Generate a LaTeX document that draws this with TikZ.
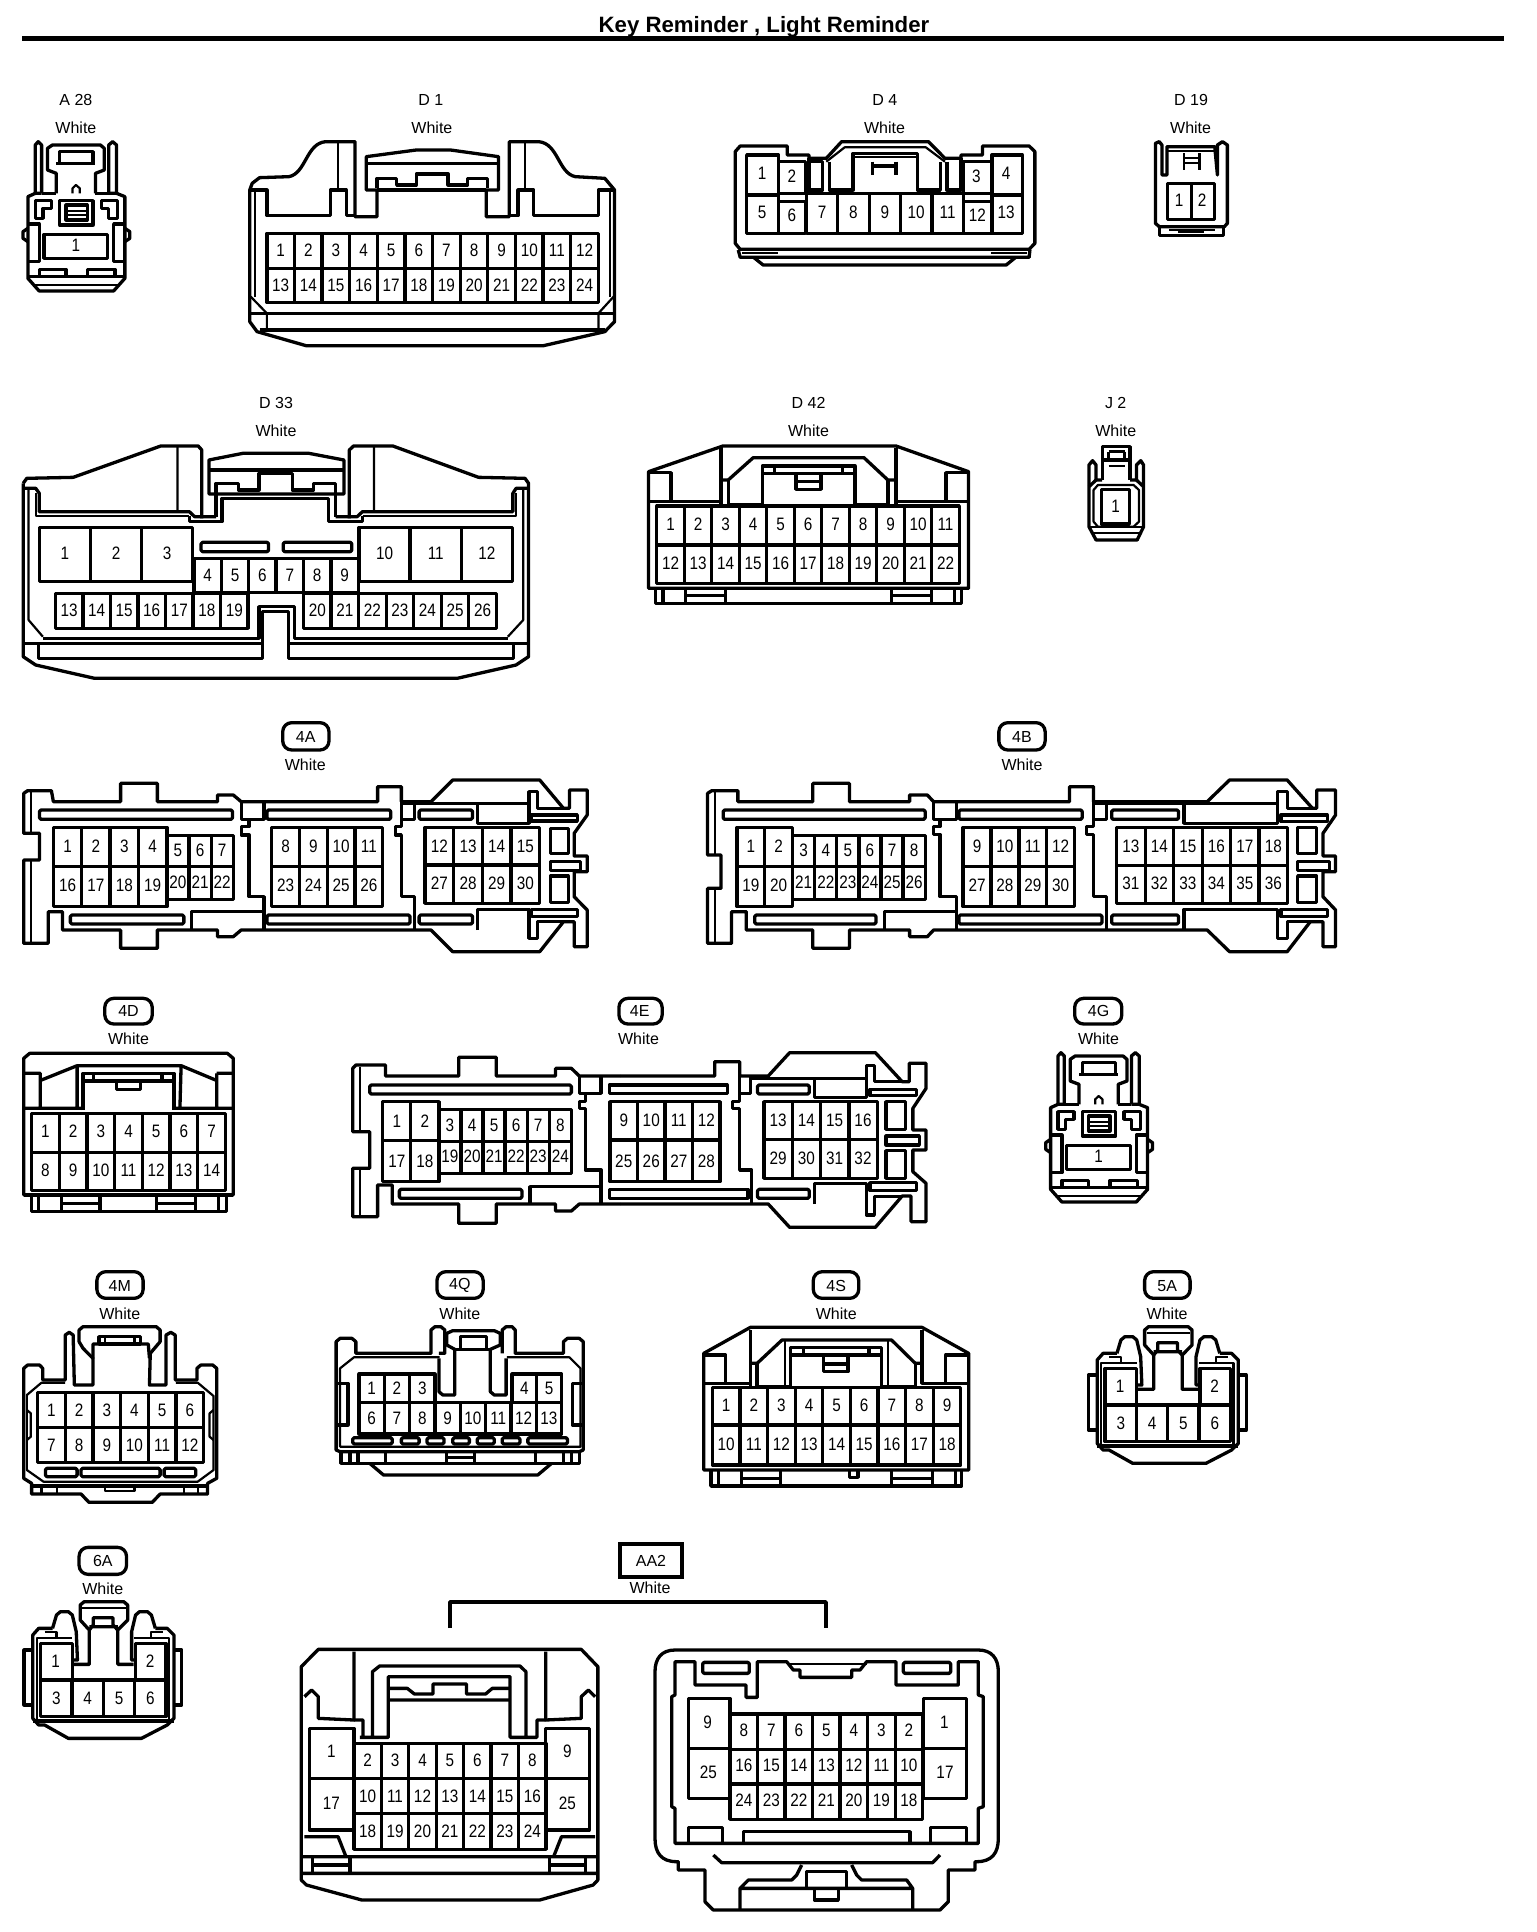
\documentclass[tikz,border=0pt]{standalone}
\usepackage{fontspec}
\setmainfont{Liberation Sans}
\newfontfamily\numf[FakeStretch=0.85]{Liberation Sans}
\newcounter{nn}
\tikzset{
 ol/.style={draw=black,line width=3.3pt,line join=round},
 tl/.style={draw=black,line width=2.2pt,line join=round},
 num/.style={inner sep=0pt,font=\fontsize{18}{18}\selectfont\numf},
 lab/.style={inner sep=0pt,font=\fontsize{16}{16}\selectfont},
 z1/.style={x=.4897pt,y=-.33333pt},
 z2/.style={shift={(700,60)},x=.38270pt,y=-.33333pt},
 z3/.style={shift={(0,390)},x=.35714pt,y=-.33333pt},
 z4/.style={shift={(630,390)},x=.35714pt,y=-.33333pt},
 z5/.style={shift={(0,720)},x=.39541pt,y=-.33333pt},
 z6/.style={shift={(700,720)},x=.42092pt,y=-.33333pt},
 z7/.style={shift={(0,1000)},x=.39541pt,y=-.33333pt},
 z8/.style={shift={(620,1000)},x=.35714pt,y=-.33333pt},
 z9/.style={shift={(0,1270)},x=.39541pt,y=-.33333pt},
 z10/.style={shift={(680,1270)},x=.39541pt,y=-.33333pt},
 z11/.style={shift={(0,1540)},x=.39541pt,y=-.33333pt},
 z12/.style={shift={(620,1540)},x=.33333pt,y=-.33333pt},
}
\newcommand\cells[6]{\foreach \n [count=\i from 0] in {#6}{\pgfmathsetmacro\xa{#4+\i*#5}\pgfmathsetmacro\xb{\xa+#5}\pgfmathsetmacro\xc{\xa+#5/2}\draw[ol] (\xa,#1) rectangle (\xb,#2);\stepcounter{nn}\node[num] (t\thenn) at (\xc,#3) {\n};}}
\newcommand\onecell[7]{\draw[ol] (#1,#2) rectangle (#3,#4);\stepcounter{nn}\node[num] (t\thenn) at (#5,#6) {#7};}
\newcommand\slotb[4]{\draw[ol,rounded corners=1.5pt] (#1,#2) rectangle (#3,#4);}
\newcommand\mk[3]{\stepcounter{nn}\node[lab] (t\thenn) at (#1,#2) {#3};}
\newcommand\pill[7]{\draw[ol,rounded corners=9pt] (#1,#2) rectangle (#3,#4);\mk{#5}{#6}{#7}}
% two connector bodies that appear twice
\newcommand\latchbody{%
 \draw[ol] (72,580)--(72,435)--(78,425)--(85,435)--(85,580);
 \draw[ol] (222,580)--(222,435)--(230,425)--(238,435)--(238,580);
 \draw[ol] (85,580)--(72,580)--(57,590)--(57,835)--(80,873)--(232,873)--(255,835)--(255,590)--(238,580)--(222,580);
 \draw[ol] (85,580)--(115,580) (195,580)--(222,580);
 \draw[ol] (115,580)--(115,520)--(97,510)--(97,445)--(107,435)--(205,435)--(213,445)--(213,510)--(195,520)--(195,580);
 \draw[ol] (122,490)--(122,455)--(190,455)--(190,490) (115,490)--(195,490);
 \draw[tl] (148,580)--(148,565)--(155,555)--(163,565)--(163,580);
 \draw[ol] (122,602) rectangle (190,675);
 \draw[ol] (135,615) rectangle (178,660);
 \draw[tl] (135,632)--(178,632) (135,646)--(178,646);
 \draw[ol] (72,602)--(105,602)--(105,625)--(88,625)--(88,655)--(72,655)--cycle;
 \draw[ol] (207,602)--(240,602)--(240,655)--(222,655)--(222,625)--(207,625)--cycle;
 \draw[ol] (57,672)--(80,672)--(80,785)--(57,785) (255,672)--(232,672)--(232,785)--(255,785);
 \draw[ol] (57,685)--(47,695)--(47,715)--(57,725) (255,685)--(265,695)--(265,715)--(255,725);
 \draw[ol] (90,703) rectangle (220,775);
 \draw[ol] (80,830)--(80,808)--(135,808)--(135,830) (178,830)--(178,808)--(235,808)--(235,830);
 \draw[ol] (57,830)--(255,830);
 \draw[tl] (70,855)--(240,855);
 \mk{155}{735}{\numf\fontsize{18}{18}\selectfont 1}
}
\newcommand\sixbody{%
 \draw[ol] (1105,250)--(1070,250)--(1055,270)--(1055,520)--(1070,540)--(1085,540)--(1145,580)--(1330,580)--(1395,540)--(1412,520)--(1412,270)--(1395,250)--(1365,250);
 \draw[ol] (1158,358)--(1198,358)--(1198,255)--(1175,225)--(1175,180)--(1185,170)--(1285,170)--(1295,180)--(1295,225)--(1270,255)--(1270,358)--(1310,358);
 \draw[tl] (1180,190)--(1290,190);
 \draw[ol] (1198,255)--(1208,240)--(1208,218)--(1258,218)--(1258,240)--(1270,255) (1198,245)--(1270,245);
 \draw[ol] (1105,250)--(1115,210)--(1125,200)--(1145,200)--(1155,210)--(1165,260)--(1168,345)--(1158,345);
 \draw[ol] (1365,250)--(1355,210)--(1345,200)--(1325,200)--(1315,210)--(1305,260)--(1305,345)--(1312,345);
 \draw[tl] (1065,525)--(1065,280)--(1155,280) (1400,525)--(1400,280)--(1312,280) (1085,262)--(1115,262)--(1115,275) (1355,275)--(1355,262)--(1385,262);
 \draw[ol] (1155,405)--(1155,295)--(1075,295)--(1075,405)--(1392,405)--(1392,295)--(1315,295)--(1315,405);
 \draw[ol] (1055,528)--(1412,528);
 \cells{405}{515}{460}{1075}{79.25}{3,4,5,6}
 \mk{1113}{350}{\numf\fontsize{18}{18}\selectfont 1}
 \mk{1352}{350}{\numf\fontsize{18}{18}\selectfont 2}
 \draw[ol] (1055,315)--(1033,315)--(1033,480)--(1055,480) (1412,315)--(1432,315)--(1432,480)--(1412,480);
}
\begin{document}
\begin{tikzpicture}[x=1pt,y=-1pt]
\useasboundingbox (0,0) rectangle (1536,1932);
\fill[white] (0,0) rectangle (1536,1932);
\node[inner sep=0pt,font=\bfseries\fontsize{22.2}{22.2}\selectfont] (title) at (764,27) {Key Reminder , Light Reminder};
\draw[line width=5pt] (22,39)--(1504,39);

% ---------- A28, D1
\begin{scope}[z1]
\mk{155}{300}{A 28}\mk{155}{382}{White}
\latchbody
\mk{880}{300}{D 1}\mk{882}{382}{White}
\draw[ol] (510,570)--(510,965)--(525,995)--(625,1037)--(1110,1037)--(1235,995)--(1255,965)--(1255,570)--(1235,535)--(1175,530) .. controls (1140,520) and (1140,430) .. (1100,425)--(1040,425)--(1040,650)--(993,650)--(993,570)--(1018,570)--(1018,470)--(920,450)--(850,450)--(748,470)--(748,570)--(770,570)--(770,650)--(725,650)--(725,425)--(665,425) .. controls (625,430) and (625,520) .. (590,530)--(530,533)--(515,550)--cycle;
\draw[ol] (510,570)--(545,570)--(545,647)--(675,647)--(675,570)--(707,570)--(707,647)--(725,647);
\draw[ol] (1040,647)--(1058,647)--(1058,570)--(1090,570)--(1090,647)--(1222,647)--(1222,570)--(1255,570);
\draw[tl] (690,430)--(690,570) (1072,430)--(1072,570) (520,575)--(520,890) (1245,575)--(1245,890);
\draw[ol] (748,490)--(1018,490) (770,570)--(993,570);
\draw[ol] (770,565)--(770,535)--(810,535)--(810,555)--(850,555)--(850,522)--(915,522)--(915,555)--(955,555)--(955,535)--(995,535)--(995,565);
\cells{700}{805}{750}{545}{56.4}{1,...,12}
\cells{805}{908}{855}{545}{56.4}{13,...,24}
\draw[ol] (510,940)--(1255,940) (530,990)--(1235,990);
\draw[tl] (512,890)--(545,940)--(545,990) (1253,890)--(1222,940)--(1222,990);
\end{scope}

% ---------- D4, D19
\begin{scope}[z2]
\mk{483}{120}{D 4}\mk{482}{202}{White}
\mk{1283}{120}{D 19}\mk{1282}{202}{White}
\draw[ol] (92,275)--(105,258)--(228,258)--(228,285)--(285,285)--(285,295)--(330,295)--(370,245)--(597,245)--(640,295)--(682,295)--(682,285)--(738,285)--(738,258)--(860,258)--(875,275)--(875,550)--(860,568)--(105,568)--(92,550)--cycle;
\draw[tl] (330,305)--(378,262)--(590,262)--(640,305);
\draw[ol] (285,295)--(285,395) (285,390)--(320,390)--(320,305)--(285,305);
\draw[ol] (338,305)--(338,390)--(400,390)--(400,280)--(568,280)--(568,390)--(628,390)--(628,305);
\draw[ol] (645,305)--(645,390)--(682,390)--(682,295);
\draw[tl] (400,292)--(568,292);
\draw[ol] (450,305)--(450,345) (512,305)--(512,345) (450,318)--(512,318);
\onecell{122}{285}{205}{405}{162}{340}{1}
\onecell{122}{405}{205}{520}{162}{458}{5}
\onecell{205}{305}{275}{400}{240}{348}{2}
\onecell{205}{425}{275}{520}{240}{465}{6}
\onecell{688}{305}{763}{400}{722}{350}{3}
\onecell{688}{425}{763}{520}{725}{467}{12}
\onecell{763}{285}{842}{405}{800}{340}{4}
\onecell{763}{405}{842}{520}{800}{458}{13}
\draw[ol] (205,400)--(688,400);
\cells{400}{520}{458}{278}{82}{7,...,11}
\draw[ol] (100,570)--(105,592)--(860,592)--(862,570);
\draw[ol] (140,592)--(165,615)--(800,615)--(825,592);
\draw[tl] (110,578)--(205,578) (760,578)--(855,578);
% D19
\draw[ol] (1190,345)--(1190,250)--(1200,245)--(1207,255)--(1207,345)--(1220,345)--(1220,260)--(1345,260)--(1352,345)--(1352,255)--(1365,245)--(1378,255)--(1378,490)--(1370,500)--(1200,500)--(1190,490)--cycle;
\draw[tl] (1217,272)--(1345,272);
\draw[tl] (1265,280)--(1265,330) (1305,280)--(1305,330) (1265,295)--(1305,295) (1265,310)--(1305,310);
\onecell{1222}{370}{1285}{478}{1252}{420}{1}
\onecell{1285}{370}{1345}{478}{1312}{420}{2}
\draw[ol] (1200,500)--(1200,527)--(1368,527)--(1368,500);
\draw[tl] (1225,510)--(1345,510);
\draw[ol] (1250,515)--(1318,515);
\end{scope}

% ---------- D33
\begin{scope}[z3]
\mk{773}{40}{D 33}\mk{773}{123}{White}
\draw[ol] (65,280)--(65,800)--(100,825)--(265,865)--(1280,865)--(1445,825)--(1480,800)--(1480,280)--(1470,265)--(1340,262)--(1100,168)--(990,168)--(978,180)--(978,385);
\draw[ol] (65,280)--(75,265)--(205,262)--(450,168)--(555,168)--(565,180)--(565,385);
\draw[ol] (70,295)--(100,295)--(110,310)--(110,365)--(530,365)--(545,380)--(605,380);
\draw[tl] (100,310)--(100,378)--(530,378);
\draw[ol] (530,378)--(530,395)--(622,395)--(622,325)--(920,325)--(920,395)--(1015,395)--(1015,378);
\draw[tl] (1015,378)--(1445,378)--(1445,310);
\draw[ol] (940,380)--(1000,380)--(1015,365)--(1436,365)--(1436,310)--(1445,295)--(1475,295);
\draw[tl] (497,170)--(497,365) (1047,170)--(1047,365) (80,295)--(80,690)--(120,740) (1465,295)--(1465,690)--(1422,740);
\draw[ol] (585,210)--(680,190)--(865,190)--(963,210)--(963,312)--(585,312)--cycle;
\draw[ol] (585,240)--(963,240);
\draw[ol] (605,312)--(605,280)--(668,280)--(668,300)--(725,300)--(725,250)--(818,250)--(818,300)--(878,300)--(878,280)--(940,280)--(940,312);
\draw[ol] (605,312)--(605,380) (940,312)--(940,380);
\cells{412}{575}{490}{110}{143.3}{1,2,3}
\cells{412}{575}{490}{1005}{143.3}{10,11,12}
\slotb{563}{457}{752}{485}\slotb{793}{457}{985}{485}
\draw[ol] (543,505)--(1003,505);
\cells{505}{608}{555}{543}{76.7}{4,...,9}
\cells{610}{715}{660}{155}{77.1}{13,...,19}
\cells{610}{715}{660}{850}{77.1}{20,...,26}
\draw[ol] (695,608)--(850,608);
\draw[ol] (120,745)--(725,745)--(725,650)--(825,650)--(825,745)--(1422,745);
\draw[ol] (65,760)--(735,760) (808,760)--(1480,760);
\draw[ol] (108,760)--(108,805)--(735,805)--(735,665)--(808,665)--(808,805)--(1437,805)--(1437,760);
\end{scope}

% ---------- D42, J2
\begin{scope}[z4]
\mk{500}{40}{D 42}\mk{500}{123}{White}
\mk{1360}{40}{J 2}\mk{1360}{123}{White}
\draw[ol] (52,595)--(52,245)--(260,168)--(745,168)--(948,245)--(948,595)--cycle;
\draw[ol] (52,248)--(115,248)--(115,335) (55,335)--(255,335) (255,175)--(255,350) (745,175)--(745,350) (745,335)--(948,335) (885,335)--(885,248)--(948,248);
\draw[ol] (255,270)--(275,270)--(345,203)--(655,203)--(722,270)--(745,270);
\draw[ol] (275,270)--(275,345)--(370,345)--(370,228)--(630,228)--(630,345)--(722,345)--(722,270);
\draw[ol] (370,250)--(630,250) (405,230)--(405,250) (595,230)--(595,250);
\draw[ol] (465,250)--(465,298)--(535,298)--(535,250) (465,275)--(535,275);
\cells{348}{465}{403}{75}{77}{1,...,11}
\cells{465}{580}{520}{75}{77}{12,...,22}
\draw[ol] (72,595)--(72,640)--(928,640)--(928,595);
\draw[ol] (92,595)--(92,640) (155,595)--(155,640) (268,595)--(268,640) (733,595)--(733,640) (845,595)--(845,640) (908,595)--(908,640);
\draw[ol] (155,617)--(268,617) (733,617)--(845,617);
% J2
\draw[ol] (1322,270)--(1322,170)--(1400,170)--(1400,270);
\draw[ol] (1322,210)--(1400,210) (1340,185)--(1385,185) (1340,185)--(1340,210) (1385,185)--(1385,210);
\draw[tl] (1340,228)--(1385,228);
\draw[ol] (1322,270)--(1305,270)--(1305,225)--(1295,212)--(1285,225)--(1285,410)--(1305,450)--(1420,450)--(1438,410)--(1438,225)--(1430,212)--(1418,225)--(1418,270)--(1400,270);
\draw[ol] (1305,270)--(1285,290) (1418,270)--(1438,290);
\draw[tl] (1298,300)--(1298,395)--(1310,410)--(1410,410)--(1425,395)--(1425,300)--(1410,285)--(1310,285)--cycle;
\onecell{1320}{298}{1398}{402}{1360}{348}{1}
\draw[tl] (1285,410)--(1438,410) (1300,430)--(1425,430);
\end{scope}

% ---------- 4A
\begin{scope}[z5]
\pill{715}{8}{832}{90}{773}{50}{4A}\mk{772}{133}{White}
\draw[ol] (60,340)--(60,220)--(70,212)--(130,212)--(135,245)--(305,245)--(305,190)--(398,190)--(398,245)--(550,245)--(550,225)--(590,225)--(610,245)--(955,245)--(955,200)--(1015,200)--(1015,245)--(1090,245)--(1145,180)--(1365,180)--(1425,265)--(1440,265)--(1440,210)--(1485,210)--(1485,285)--(1452,340)--(1452,408)--(1485,408)--(1485,455)--(1452,455)--(1452,530)--(1485,570)--(1485,680)--(1452,680)--(1452,605)--(1425,605)--(1365,695)--(1145,695)--(1090,630)--(610,630)--(590,650)--(550,650)--(550,630)--(398,630)--(398,685)--(305,685)--(305,630)--(158,630)--(158,575)--(122,575)--(122,670)--(60,670)--(60,420)--(100,420)--(100,340)--cycle;
\draw[tl] (78,215)--(78,340) (78,420)--(78,665);
\draw[ol] (1425,265)--(1360,265)--(1360,215)--(1338,215)--(1338,250)--(1015,250);
\draw[ol] (1452,605)--(1360,605)--(1360,655)--(1338,655)--(1338,630);
\slotb{100}{270}{588}{298}\slotb{178}{585}{465}{612}\slotb{675}{270}{988}{298}\slotb{675}{585}{1037}{612}\slotb{1060}{270}{1195}{298}\slotb{1060}{585}{1195}{612}
\draw[ol] (1208,250)--(1208,310)--(1338,310)--(1338,250) (1208,630)--(1208,568)--(1338,568)--(1338,630);
\draw[ol] (610,245)--(610,298)--(668,298)--(668,245) (1015,298)--(1048,298)--(1048,245);
\draw[ol] (630,298)--(630,320)--(610,320)--(610,345)--(630,345)--(630,530)--(668,530)--(668,630) (485,630)--(485,575)--(668,575);
\draw[ol] (1015,245)--(1015,320)--(1000,320)--(1000,345)--(1015,345)--(1015,530)--(1048,530)--(1048,630);
\cells{322}{440}{380}{135}{71.75}{1,2,3,4}
\cells{440}{560}{497}{135}{71.75}{16,17,18,19}
\cells{347}{440}{392}{422}{56}{5,6,7}
\cells{440}{538}{487}{422}{56}{20,21,22}
\cells{322}{440}{380}{687}{70.25}{8,9,10,11}
\cells{440}{560}{497}{687}{70.25}{23,24,25,26}
\cells{322}{435}{378}{1075}{72.5}{12,13,14,15}
\cells{435}{550}{490}{1075}{72.5}{27,28,29,30}
\draw[ol] (1392,325) rectangle (1437,400) (1392,425) rectangle (1468,452) (1392,468) rectangle (1437,548) (1345,285) rectangle (1460,303) (1345,568) rectangle (1460,590);
\end{scope}

% ---------- 4B
\begin{scope}[z6]
\pill{710}{8}{820}{90}{765}{50}{4B}\mk{765}{133}{White}
\draw[ol] (18,405)--(18,220)--(28,212)--(90,212)--(90,245)--(268,245)--(268,190)--(355,190)--(355,245)--(498,245)--(498,225)--(540,225)--(555,245)--(878,245)--(878,200)--(935,200)--(935,245)--(1205,245)--(1258,180)--(1395,180)--(1455,265)--(1465,265)--(1465,210)--(1510,210)--(1510,285)--(1480,340)--(1480,408)--(1510,408)--(1510,455)--(1480,455)--(1480,530)--(1510,570)--(1510,680)--(1480,680)--(1480,605)--(1450,605)--(1395,695)--(1258,695)--(1205,630)--(555,630)--(540,650)--(498,650)--(498,630)--(355,630)--(355,685)--(268,685)--(268,630)--(110,630)--(110,575)--(75,575)--(75,670)--(18,670)--(18,505)--(50,505)--(50,405)--cycle;
\draw[tl] (35,215)--(35,405) (35,505)--(35,665);
\slotb{55}{270}{535}{298}\slotb{130}{585}{418}{612}\slotb{615}{270}{908}{298}\slotb{615}{585}{955}{612}\slotb{978}{270}{1137}{298}\slotb{978}{585}{1137}{612}
\draw[ol] (1150,250)--(1150,310)--(1372,310)--(1372,250) (1150,630)--(1150,568)--(1372,568)--(1372,630);
\draw[ol] (935,250)--(1372,250)--(1372,215)--(1395,215)--(1395,265)--(1455,265);
\draw[ol] (1372,630)--(1372,655)--(1395,655)--(1395,605)--(1450,605);
\draw[ol] (555,245)--(555,298)--(610,298)--(610,245) (935,298)--(965,298)--(965,245);
\draw[ol] (570,298)--(570,320)--(555,320)--(555,343)--(570,343)--(570,530)--(610,530)--(610,630) (438,630)--(438,575)--(610,575);
\draw[ol] (935,245)--(935,320)--(918,320)--(918,343)--(935,343)--(935,530)--(965,530)--(965,630);
\cells{322}{440}{380}{88}{66}{1,2}
\cells{440}{560}{495}{88}{66}{19,20}
\cells{347}{440}{392}{220}{52.5}{3,...,8}
\cells{440}{538}{487}{220}{52.5}{21,...,26}
\cells{322}{440}{380}{625}{66.25}{9,10,11,12}
\cells{440}{560}{497}{625}{66.25}{27,28,29,30}
\cells{322}{437}{378}{990}{67.67}{13,...,18}
\cells{437}{550}{490}{990}{67.67}{31,...,36}
\draw[ol] (1420,322) rectangle (1465,400) (1420,425) rectangle (1495,452) (1420,468) rectangle (1465,548) (1380,285) rectangle (1490,305) (1380,568) rectangle (1490,590);
\end{scope}

% ---------- 4D and left part of 4E
\begin{scope}[z7]
\pill{265}{-5}{385}{72}{325}{33}{4D}\mk{325}{117}{White}
\draw[ol] (60,585)--(60,175)--(75,160)--(575,160)--(590,175)--(590,585)--cycle;
\draw[ol] (60,220)--(102,220)--(102,325) (60,325)--(210,325) (195,325)--(195,197)--(458,197)--(455,325) (440,325)--(590,325) (548,220)--(590,220) (548,220)--(548,325);
\draw[ol] (105,240)--(195,197) (458,197)--(545,240);
\draw[ol] (210,330)--(210,220)--(440,220)--(440,330) (210,243)--(440,243) (237,222)--(237,243) (410,222)--(410,243) (295,243)--(295,268)--(355,268)--(355,243);
\cells{340}{458}{395}{80}{70}{1,...,7}
\cells{458}{572}{510}{80}{70}{8,...,14}
\draw[ol] (60,585)--(590,585);
\draw[ol] (80,585)--(80,635)--(572,635)--(572,585);
\draw[ol] (97,585)--(97,635) (155,585)--(155,635) (253,585)--(253,635) (395,585)--(395,635) (495,585)--(495,635) (553,585)--(553,635) (155,610)--(253,610) (395,610)--(495,610);
% 4E left
\draw[ol] (1568,228)--(1465,228)--(1445,205)--(1405,205)--(1405,228)--(1255,228)--(1255,172)--(1160,172)--(1160,228)--(975,228)--(975,195)--(900,195)--(892,205)--(892,395)--(935,395)--(935,505)--(892,505)--(892,650)--(955,650)--(955,555)--(992,555)--(992,612)--(1160,612)--(1160,670)--(1255,670)--(1255,612)--(1405,612)--(1405,633)--(1445,633)--(1465,612)--(1568,612);
\draw[tl] (910,200)--(910,395) (910,505)--(910,645);
\slotb{935}{255}{1445}{282}\slotb{1010}{568}{1320}{595}
\draw[ol] (1465,228)--(1465,280)--(1520,280)--(1520,228);
\draw[ol] (1480,280)--(1480,305)--(1465,305)--(1465,325)--(1480,325)--(1480,510)--(1520,510)--(1520,612) (1340,612)--(1340,560)--(1520,560);
\cells{305}{422}{365}{968}{71}{1,2}
\cells{422}{545}{483}{968}{71}{17,18}
\cells{328}{425}{375}{1110}{55.8}{3,...,8}
\cells{425}{520}{470}{1110}{55.8}{19,...,24}
\end{scope}

% ---------- 4E right, 4G
\begin{scope}[z8]
\pill{-3}{-5}{118}{72}{55}{33}{4E}\mk{52}{117}{White}
\draw[ol] (0,228)--(265,228)--(265,185)--(335,185)--(335,228)--(415,228)--(475,158)--(715,158)--(790,245)--(810,245)--(810,190)--(857,190)--(857,265)--(820,325)--(820,390)--(857,390)--(857,450)--(820,450)--(820,515)--(857,550)--(857,665)--(815,665)--(815,588)--(790,588)--(715,682)--(475,682)--(415,612)--(0,612);
\draw[ol] (335,280)--(365,280)--(365,228);
\draw[ol] (335,228)--(335,305)--(315,305)--(315,325)--(335,325)--(335,510)--(368,510)--(368,612);
\draw[ol] (-30,255)--(300,255)--(300,280)--(-30,280)--cycle;
\draw[ol] (-30,568)--(358,568)--(358,595)--(-30,595)--cycle;
\slotb{385}{255}{530}{282}\slotb{385}{568}{530}{595}
\draw[ol] (545,235)--(545,292)--(690,292)--(690,235) (545,612)--(545,550)--(690,550)--(690,612);
\draw[ol] (368,235)--(690,235)--(690,197)--(712,197)--(712,245)--(790,245);
\draw[ol] (690,612)--(690,645)--(712,645)--(712,590)--(790,590);
\cells{305}{420}{362}{-28}{77}{9,10,11,12}
\cells{420}{545}{483}{-28}{77}{25,26,27,28}
\cells{305}{418}{360}{403}{79.25}{13,14,15,16}
\cells{418}{535}{475}{403}{79.25}{29,30,31,32}
\draw[ol] (745,305) rectangle (800,388) (745,408) rectangle (838,435) (745,452) rectangle (800,535) (700,268) rectangle (830,287) (700,548) rectangle (830,572);
\pill{1273}{-5}{1405}{72}{1340}{33}{4G}\mk{1340}{117}{White}
\end{scope}
\begin{scope}[shift={(1022.7,911)},z1]
\latchbody
\end{scope}

% ---------- 4M, 4Q
\begin{scope}[z9]
\pill{245}{5}{362}{85}{303}{47}{4M}\mk{303}{130}{White}
\draw[ol] (60,625)--(60,295)--(70,285)--(100,285)--(108,295)--(108,330)--(165,330)--(165,195)--(175,187)--(185,195)--(188,345)--(235,345)--(235,265)--(210,235)--(200,215)--(200,180)--(210,170)--(395,170)--(405,180)--(405,215)--(380,250)--(378,345)--(420,345)--(420,195)--(432,187)--(443,195)--(443,330)--(498,330)--(498,295)--(508,285)--(538,285)--(548,295)--(548,625)--(525,640)--(525,672)--(405,672)--(385,697)--(225,697)--(205,672)--(80,672)--(80,640)--cycle;
\draw[tl] (165,338)--(105,338)--(68,375)--(68,600)--(110,635)--(500,635)--(540,600)--(540,378)--(500,338)--(445,338);
\cells{368}{472}{420}{95}{70}{1,...,6}
\cells{472}{578}{525}{95}{70}{7,...,12}
\draw[ol] (235,265)--(235,222)--(375,222)--(378,265);
\draw[ol] (250,200) rectangle (355,222);
\draw[tl] (265,200)--(265,222) (340,200)--(340,222);
\slotb{115}{595}{195}{620}\slotb{205}{595}{405}{620}\slotb{415}{595}{495}{620}
\draw[ol] (80,648)--(525,648);
\draw[tl] (105,648)--(105,672) (145,648)--(145,672) (465,648)--(465,672) (500,648)--(500,672);
\draw[tl] (265,648)--(265,662)--(340,662)--(340,648);
\draw[tl] (68,420)--(78,430)--(78,500)--(68,510) (540,420)--(530,430)--(530,500)--(540,510);
% 4Q
\pill{1105}{5}{1222}{85}{1163}{47}{4Q}\mk{1163}{130}{White}
\draw[ol] (1110,250)--(1125,250)--(1125,180)--(1115,170)--(1100,170)--(1090,180)--(1090,250)--(900,250)--(900,215)--(890,205)--(860,205)--(850,215)--(850,540)--(860,545)--(1465,545)--(1475,540)--(1475,215)--(1465,205)--(1435,205)--(1425,215)--(1425,250)--(1303,250)--(1303,180)--(1295,170)--(1280,170)--(1270,180)--(1270,250);
\draw[ol] (1110,265)--(1110,365)--(1120,375)--(1150,375)--(1150,238)--(1130,225)--(1130,190)--(1145,182)--(1250,182)--(1265,190)--(1265,225)--(1240,238)--(1240,365)--(1250,375)--(1280,375)--(1280,265);
\draw[ol] (1150,238)--(1240,238);
\draw[ol] (1165,200) rectangle (1230,238);
\draw[tl] (1112,262)--(895,262)--(860,295)--(860,530)--(1468,530)--(1468,295)--(1440,262)--(1282,262);
\cells{312}{398}{355}{908}{64}{1,2,3}
\cells{312}{398}{355}{1295}{62.5}{4,5}
\cells{398}{492}{445}{908}{64}{6,...,13}
\slotb{892}{503}{992}{522}\slotb{1015}{503}{1060}{522}\slotb{1080}{503}{1123}{522}\slotb{1145}{503}{1187}{522}\slotb{1207}{503}{1250}{522}\slotb{1270}{503}{1315}{522}\slotb{1335}{503}{1435}{522}
\draw[ol] (850,340)--(880,340)--(880,465)--(850,465) (1475,340)--(1448,340)--(1448,465)--(1475,465);
\draw[ol] (862,545)--(862,580)--(1465,580)--(1465,545);
\draw[ol] (885,545)--(885,580) (905,545)--(905,580) (975,545)--(975,580) (1130,545)--(1130,580) (1200,545)--(1200,580) (1355,545)--(1355,580) (1425,545)--(1425,580) (1445,545)--(1445,580) (1130,562)--(1200,562);
\draw[ol] (935,580)--(970,615)--(1360,615)--(1395,580);
\end{scope}

% ---------- 4S, 5A
\begin{scope}[z10]
\pill{337}{5}{452}{85}{395}{47}{4S}\mk{395}{130}{White}
\draw[ol] (60,600)--(60,250)--(178,172)--(612,172)--(730,250)--(730,600)--cycle;
\draw[ol] (60,255)--(115,255)--(115,340) (60,340)--(178,340) (178,180)--(178,350) (612,180)--(612,340)--(730,340) (672,340)--(672,255)--(730,255);
\draw[ol] (178,280)--(195,280)--(258,210)--(535,210)--(595,280)--(612,280);
\draw[ol] (195,280)--(195,350)--(280,350)--(280,232)--(510,232)--(510,350)--(595,350)--(595,280);
\draw[tl] (265,210)--(265,345) (525,210)--(525,345);
\draw[ol] (280,255)--(510,255) (312,232)--(312,255) (478,232)--(478,255) (362,255)--(362,305)--(425,305)--(425,255) (362,282)--(425,282);
\cells{352}{465}{405}{82}{69.8}{1,...,9}
\cells{465}{585}{522}{82}{69.8}{10,...,18}
\draw[ol] (78,600)--(78,648)--(712,648)--(712,600);
\draw[ol] (97,600)--(97,648) (155,600)--(155,648) (255,600)--(255,648) (535,600)--(535,648) (638,600)--(638,648) (697,600)--(697,648) (155,625)--(255,625) (535,625)--(638,625);
\draw[ol] (428,600)--(428,622)--(450,622)--(450,600);
\pill{1175}{5}{1290}{85}{1232}{47}{5A}\mk{1232}{130}{White}
\sixbody
\end{scope}

% ---------- 6A
\begin{scope}[z11]
\pill{200}{22}{320}{103}{260}{62}{6A}\mk{260}{145}{White}
\end{scope}
\begin{scope}[shift={(-1064.4,275)},z10]
\sixbody
\end{scope}

% ---------- AA2
\node[draw,line width=3.3pt,minimum width=62pt,minimum height=33pt,inner sep=0pt,font=\fontsize{16}{16}\selectfont] (aa) at (651,1560.5) {AA2};
\mk{650}{1588}{White}
\coordinate (brl) at (450,1628);\coordinate (brr) at (826,1628);
\draw[line width=3.6pt,line join=round] (brl)--(450,1602)--(826,1602)--(brr);
\begin{scope}[z11]
\draw[ol] (762,1020)--(762,380)--(805,328)--(1470,328)--(1512,380)--(1512,1020)--(1500,1035)--(1365,1080)--(915,1080)--(775,1035)--cycle;
\draw[ol] (895,335)--(895,540)--(805,535)--(805,470)--(788,450)--(770,470) (1380,335)--(1380,540)--(1470,535)--(1470,470)--(1488,450)--(1505,470);
\draw[ol] (895,540)--(918,540)--(918,590) (942,590)--(942,395)--(960,378)--(1315,378)--(1330,395)--(1330,590) (910,592)--(982,592)--(982,410)--(1290,410)--(1290,592)--(1358,592)--(1358,540)--(1380,540);
\draw[ol] (982,445)--(1030,445)--(1048,462)--(1095,462)--(1095,432)--(1180,432)--(1180,462)--(1228,462)--(1245,445)--(1290,445) (982,480)--(1290,480);
\onecell{782}{565}{895}{715}{838}{635}{1}
\onecell{782}{715}{895}{870}{838}{790}{17}
\onecell{1380}{565}{1490}{715}{1435}{635}{9}
\onecell{1380}{715}{1490}{870}{1435}{790}{25}
\cells{610}{715}{660}{895}{69.4}{2,...,8}
\cells{715}{820}{768}{895}{69.4}{10,...,16}
\cells{820}{928}{873}{895}{69.4}{18,...,24}
\draw[ol] (770,890)--(855,890)--(875,950) (1505,890)--(1420,890)--(1400,950) (762,950)--(1512,950) (762,1000)--(1512,1000);
\draw[ol] (790,955)--(790,995) (885,955)--(885,995) (790,975)--(885,975) (1390,955)--(1390,995) (1480,955)--(1480,995) (1390,975)--(1480,975);
\end{scope}
\begin{scope}[z12]
\draw[ol] (165,330)--(1075,330) .. controls (1115,330) and (1135,355) .. (1135,395)--(1135,895) .. controls (1135,940) and (1115,965) .. (1070,965)--(1065,965)--(1065,990)--(985,990)--(985,1085)--(960,1110)--(280,1110)--(255,1085)--(255,990)--(175,990)--(175,965)--(170,965) .. controls (125,965) and (105,940) .. (105,895)--(105,395) .. controls (105,355) and (125,330) .. (165,330)--cycle;
\draw[ol] (165,910)--(165,805)--(155,800)--(155,470)--(165,465)--(165,365)--(225,365)--(225,435)--(378,435)--(378,472)--(412,472)--(412,365)--(500,365)--(520,390)--(540,390)--(540,412)--(695,412)--(695,390)--(720,390)--(740,365)--(828,365)--(828,435)--(1015,435)--(1015,365)--(1075,365)--(1075,465)--(1090,470)--(1090,800)--(1075,805)--(1075,910)--cycle;
\slotb{248}{367}{388}{400}\slotb{850}{367}{992}{400}
\draw[tl] (500,372)--(740,372);
\onecell{205}{475}{330}{625}{263}{547}{9}
\onecell{205}{625}{330}{775}{265}{697}{25}
\onecell{910}{475}{1040}{625}{973}{547}{1}
\onecell{910}{625}{1040}{775}{975}{697}{17}
\cells{522}{628}{570}{330}{82.6}{8,7,...,2}
\cells{628}{732}{675}{330}{82.6}{16,15,...,10}
\cells{732}{838}{780}{330}{82.6}{24,23,...,18}
\draw[ol] (205,910)--(205,862)--(308,862)--(308,910) (370,910)--(370,875)--(870,875)--(870,910) (932,910)--(932,862)--(1040,862)--(1040,910);
\draw[ol] (280,945)--(305,968)--(938,968)--(960,945);
\draw[ol] (545,975)--(530,1005)--(515,1020)--(385,1020)--(360,1045)--(360,1110) (695,975)--(710,1005)--(725,1020)--(860,1020)--(878,1045)--(878,1110) (360,1045)--(878,1045);
\draw[ol] (560,1045)--(560,995)--(680,995)--(680,1045) (583,1045)--(583,1080)--(655,1080)--(655,1045);
\end{scope}
\end{tikzpicture}
\end{document}
